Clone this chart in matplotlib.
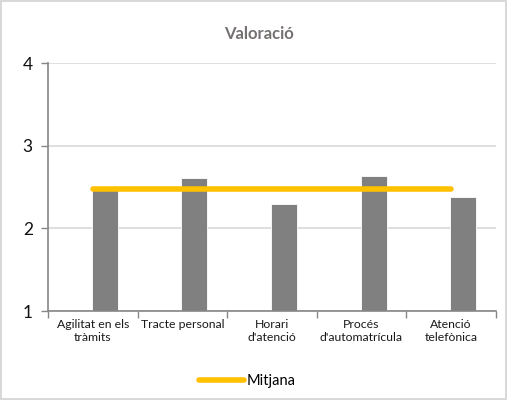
import numpy as np
from matplotlib import pyplot as plt

# data
categories = ["Agilitat en els\ntràmits", "Tracte personal", "Horari\nd'atenció",
              "Procés\nd'automatrícula", "Atenció\ntelefònica"]
valoracio = [2.46, 2.61, 2.30, 2.63, 2.38]
mitjana = [2.47, 2.47, 2.47, 2.47, 2.47]

plt.rcParams['font.family'] = ['Lato', 'DejaVu Sans']

fig = plt.figure(figsize=(5.07, 4.0), dpi=100, linewidth=1.5, edgecolor='#d9d9d9')
ax = fig.add_axes([0.0947, 0.2225, 0.8833, 0.62])

x = np.arange(len(categories))
# bars sit right of the category centre (empty second slot of a clustered chart)
ax.bar(x + 0.135, valoracio, width=0.29, bottom=0, color='#808080', edgecolor='white',
       linewidth=0.6, zorder=2)
ax.plot(x, mitjana, color='#FFC000', linewidth=4, solid_capstyle='round',
        zorder=3, label='Mitjana')

ax.set_ylim(1, 4)
ax.set_xlim(-0.5, len(categories) - 0.5)
ax.set_yticks([1, 2, 3, 4])
ax.yaxis.grid(True, color='#d9d9d9', linewidth=1.2, zorder=0)
ax.set_axisbelow(True)

ax.set_xticks(x)
ax.set_xticklabels(categories, fontsize=8.8, color='#1a1a1a')
ax.set_xticks(np.arange(len(categories) + 1) - 0.5, minor=True)
ax.tick_params(axis='x', which='major', length=0, pad=6)
ax.tick_params(axis='x', which='minor', length=5, color='#868686', width=1)
ax.tick_params(axis='y', length=5, color='#868686', width=1, labelsize=12.5,
               labelcolor='#111111', pad=6)

for side in ['top', 'right']:
    ax.spines[side].set_visible(False)
for side in ['left', 'bottom']:
    ax.spines[side].set_color('#868686')
    ax.spines[side].set_linewidth(1.2)

fig.text(0.51, 0.915, "Valoració", ha='center', va='center', fontsize=12,
         fontweight='bold', color='#767171')

fig.legend(loc='center', bbox_to_anchor=(0.488, 0.047), frameon=False, fontsize=10.5,
           handlelength=3.1, handletextpad=0.15)

fig.savefig('out.png', dpi=100, edgecolor=fig.get_edgecolor())
